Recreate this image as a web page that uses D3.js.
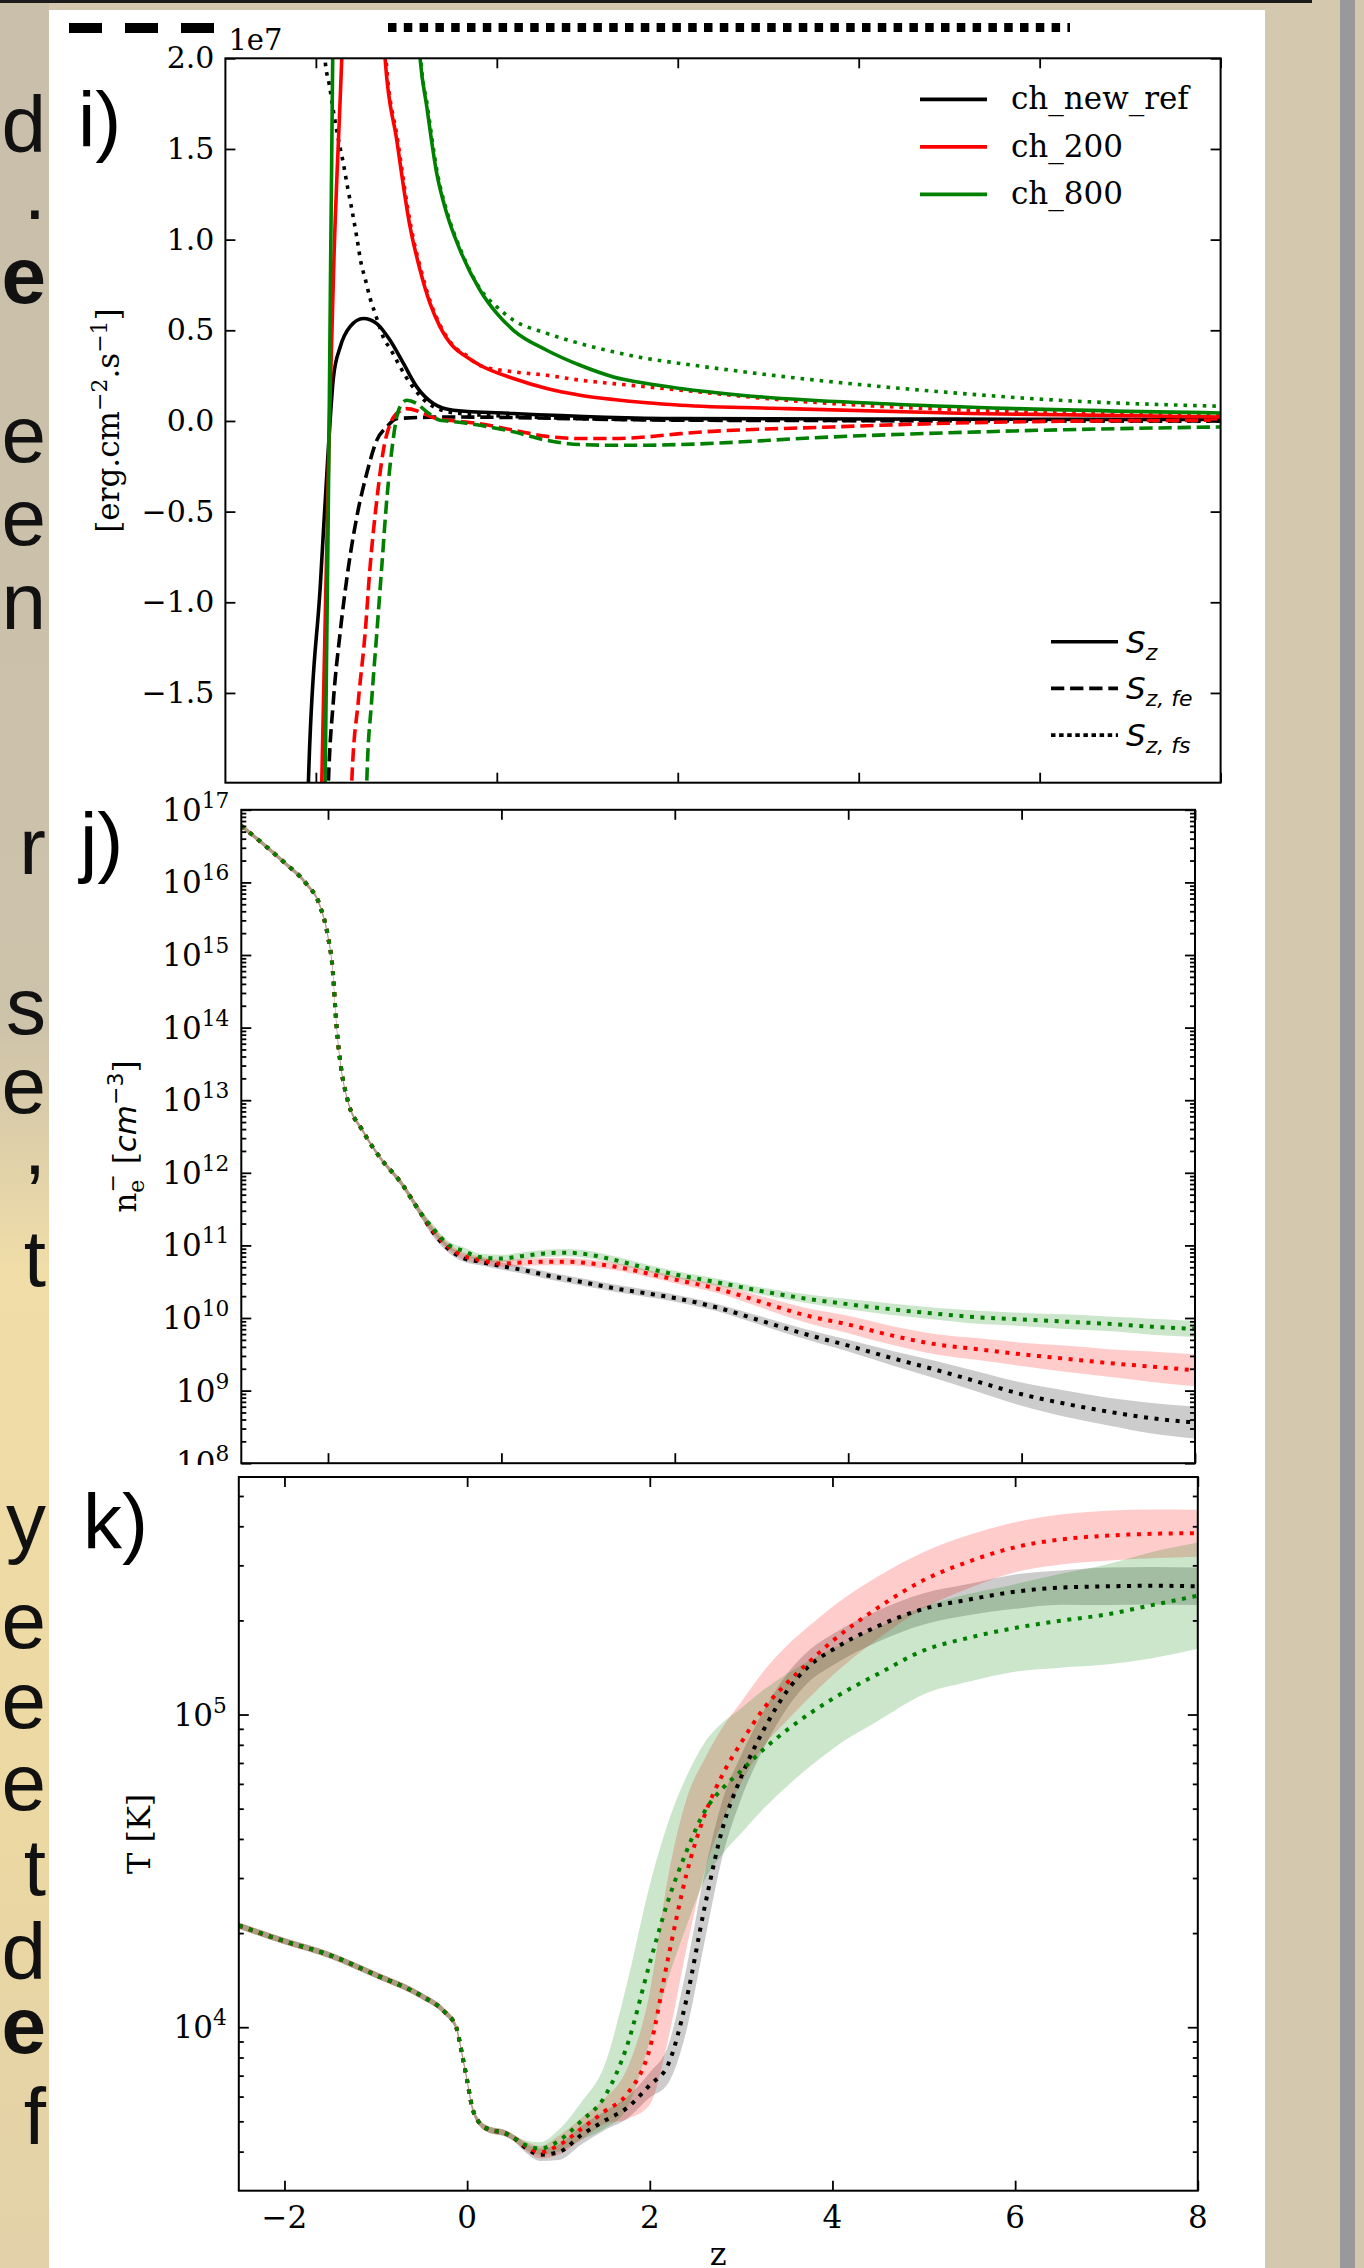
<!DOCTYPE html>
<html>
<head>
<meta charset="utf-8">
<script src="https://cdn.jsdelivr.net/npm/d3@7/dist/d3.min.js"></script>
<style>
  body { margin: 0; background: #fff; }
  svg { display: block; }
</style>
</head>
<body>
<svg id="fig" width="1364" height="2268"></svg>
<script>
// ---------------- panel i) : S_z in units of 1e7 erg cm-2 s-1, as [z, value] ----------------
const sz_ref = [[-2.10,-2.3],[-2.083,-2.0],[-1.95,-0.9],[-1.862,-0.15],[-1.806,0.24],[-1.733,0.405],[-1.622,0.52],[-1.475,0.565],[-1.327,0.537],[-1.18,0.445],[-1.032,0.317],[-0.885,0.188],[-0.701,0.096],[-0.48,0.059],[0.184,0.041],[2.03,0.013],[5,0.01],[8,0.008]];
const szfe_ref = [[-1.88,-2.3],[-1.862,-2.0],[-1.806,-1.54],[-1.733,-1.173],[-1.64,-0.806],[-1.548,-0.53],[-1.438,-0.29],[-1.327,-0.107],[-1.217,-0.033],[-1.106,0.013],[-0.553,0.022],[2.03,0.004],[8,0.0]];
const szfs_ref = [[-1.92,2.4],[-1.90,2.0],[-1.85,1.85],[-1.80,1.69],[-1.75,1.55],[-1.70,1.43],[-1.65,1.29],[-1.60,1.16],[-1.55,1.02],[-1.50,0.87],[-1.45,0.775],[-1.40,0.675],[-1.35,0.60],[-1.30,0.525],[-1.25,0.455],[-1.18,0.40],[-1.07,0.30],[-1.0,0.24],[-0.885,0.16],[-0.77,0.10],[-0.664,0.07],[-0.48,0.045],[0.184,0.025],[2.03,0.006],[8,0.0]];

const sz_200 = [[-1.95,-2.3],[-1.935,-2.0],[-1.85,0.0],[-1.80,0.9],[-1.714,2.0],[-1.68,2.5],[-1.45,3.2],[-1.30,2.6],[-1.235,2.0],[-1.106,1.549],[-0.959,1.071],[-0.848,0.832],[-0.738,0.648],[-0.627,0.519],[-0.48,0.409],[-0.332,0.353],[-0.185,0.307],[0.184,0.234],[0.552,0.179],[0.921,0.142],[1.289,0.118],[1.658,0.10],[2.03,0.087],[3.2,0.068],[5.22,0.041],[8,0.022]];
const szfe_200 = [[-1.62,-2.3],[-1.604,-2.0],[-1.53,-1.54],[-1.456,-1.173],[-1.401,-0.806],[-1.327,-0.438],[-1.254,-0.162],[-1.161,0.004],[-1.07,0.055],[-0.996,0.068],[-0.848,0.05],[-0.664,0.013],[-0.553,0.005],[-0.185,-0.015],[0.184,-0.051],[0.552,-0.085],[0.921,-0.097],[1.29,-0.097],[1.658,-0.088],[2.03,-0.07],[3.71,-0.033],[5.72,-0.005],[8,0.004]];
const szfs_200 = [[-1.25,2.4],[-1.225,2.0],[-1.096,1.549],[-0.949,1.071],[-0.838,0.832],[-0.728,0.648],[-0.617,0.519],[-0.47,0.409],[-0.332,0.36],[-0.185,0.305],[0.184,0.271],[0.552,0.252],[0.921,0.225],[1.289,0.206],[1.658,0.188],[2.03,0.17],[3.2,0.114],[5.22,0.059],[8,0.031]];

const sz_800 = [[-1.92,-2.3],[-1.898,-2.0],[-1.851,0.114],[-1.814,2.0],[-1.79,2.6],[-1.3,3.5],[-0.9,2.4],[-0.848,2.0],[-0.774,1.733],[-0.664,1.365],[-0.553,1.144],[-0.406,0.942],[-0.185,0.721],[0.0,0.593],[0.184,0.50],[0.552,0.39],[0.921,0.307],[1.289,0.243],[1.658,0.206],[2.03,0.179],[2.70,0.142],[4.21,0.096],[5.72,0.068],[8,0.044]];
const szfe_800 = [[-1.45,-2.3],[-1.438,-2.0],[-1.383,-1.54],[-1.327,-1.173],[-1.272,-0.806],[-1.217,-0.438],[-1.161,-0.162],[-1.106,0.022],[-1.04,0.10],[-0.996,0.114],[-0.885,0.096],[-0.774,0.05],[-0.627,0.004],[-0.553,0.0],[-0.185,-0.024],[0.184,-0.06],[0.552,-0.107],[0.921,-0.13],[1.29,-0.134],[1.658,-0.134],[2.03,-0.13],[3.71,-0.088],[5.72,-0.055],[8,-0.033]];
const szfs_800 = [[-0.87,2.4],[-0.84,2.0],[-0.766,1.733],[-0.656,1.365],[-0.545,1.144],[-0.398,0.942],[-0.18,0.725],[0.0,0.629],[0.184,0.556],[0.552,0.483],[0.921,0.427],[1.289,0.381],[1.658,0.344],[2.03,0.317],[3.2,0.243],[4.71,0.169],[6.22,0.114],[8,0.081]];

const fluxTicks = [-1.5, -1.0, -0.5, 0.0, 0.5, 1.0, 1.5, 2.0];
const zTicks = [-2, 0, 2, 4, 6, 8];

// ---------------- panel j) : electron density, log10(n_e) ----------------
const jZ = [-3.0,-2.7,-2.5,-2.25,-2.1,-2.0,-1.95,-1.9,-1.85,-1.78,-1.6,-1.4,-1.15,-0.95,-0.8,-0.6,-0.45,-0.25,0.0,0.25,0.5,0.75,1.0,1.3,1.7,2.0,2.5,3.0,3.5,4.0,4.5,5.0,5.5,6.0,6.5,7.0,7.5,8.0];
const ne_ref = [16.78,16.48,16.27,15.98,15.70,15.25,14.85,14.00,13.45,13.03,12.58,12.21,11.85,11.48,11.20,10.94,10.83,10.775,10.715,10.66,10.595,10.535,10.48,10.41,10.335,10.275,10.14,9.96,9.78,9.62,9.45,9.29,9.12,8.95,8.82,8.71,8.62,8.56];
const ne_200 = [16.78,16.48,16.27,15.98,15.70,15.25,14.85,14.00,13.45,13.03,12.58,12.21,11.85,11.48,11.22,10.97,10.86,10.80,10.75,10.765,10.775,10.776,10.755,10.71,10.61,10.53,10.40,10.22,10.04,9.91,9.76,9.64,9.57,9.50,9.44,9.38,9.33,9.28];
const ne_800 = [16.78,16.48,16.27,15.98,15.70,15.25,14.85,14.00,13.45,13.03,12.58,12.21,11.85,11.48,11.25,11.00,10.93,10.84,10.82,10.855,10.89,10.90,10.875,10.80,10.68,10.60,10.49,10.37,10.27,10.19,10.12,10.06,10.01,9.98,9.95,9.92,9.88,9.85];
// half width of the shaded spread, in decades
const neSpread_ref = [0.03,0.03,0.03,0.03,0.03,0.04,0.05,0.05,0.04,0.03,0.03,0.03,0.04,0.05,0.06,0.05,0.05,0.05,0.05,0.05,0.05,0.05,0.05,0.05,0.05,0.05,0.05,0.06,0.07,0.08,0.10,0.12,0.14,0.16,0.18,0.19,0.21,0.22];
const neSpread_200 = [0.03,0.03,0.03,0.03,0.03,0.04,0.05,0.05,0.04,0.03,0.03,0.03,0.04,0.05,0.06,0.05,0.05,0.05,0.05,0.05,0.05,0.05,0.05,0.05,0.05,0.05,0.06,0.08,0.10,0.12,0.13,0.14,0.15,0.16,0.18,0.19,0.21,0.22];
const neSpread_800 = [0.03,0.03,0.03,0.03,0.03,0.04,0.05,0.05,0.04,0.03,0.03,0.03,0.04,0.05,0.06,0.05,0.05,0.05,0.05,0.05,0.05,0.05,0.05,0.05,0.05,0.05,0.05,0.05,0.06,0.07,0.08,0.08,0.09,0.09,0.10,0.10,0.11,0.11];
const neDecades = [8, 9, 10, 11, 12, 13, 14, 15, 16, 17];

// ---------------- panel k) : temperature, log10(T) ----------------
const kZ = [-2.5,-2.0,-1.5,-1.0,-0.5,-0.25,-0.12,-0.05,0.0,0.05,0.12,0.25,0.4,0.5,0.65,0.8,1.0,1.25,1.5,1.75,2.0,2.2,2.4,2.6,2.8,3.0,3.25,3.5,3.75,4.0,4.5,5.0,5.5,6.0,6.5,7.0,7.5,8.0];
const t_ref = [4.325,4.275,4.23,4.167,4.10,4.05,4.00,3.905,3.83,3.75,3.70,3.672,3.663,3.648,3.612,3.592,3.600,3.655,3.70,3.742,3.815,3.88,4.087,4.383,4.64,4.80,4.953,5.074,5.157,5.207,5.283,5.338,5.368,5.393,5.406,5.41,5.412,5.41];
const t_200 = [4.325,4.275,4.23,4.167,4.10,4.05,4.00,3.905,3.83,3.75,3.70,3.672,3.663,3.648,3.618,3.60,3.622,3.675,3.73,3.786,3.932,4.22,4.488,4.678,4.81,4.91,5.02,5.10,5.17,5.235,5.342,5.43,5.49,5.535,5.56,5.572,5.578,5.58];
const t_800 = [4.325,4.275,4.23,4.167,4.10,4.05,4.00,3.905,3.83,3.75,3.70,3.672,3.663,3.648,3.622,3.612,3.636,3.70,3.775,3.94,4.205,4.404,4.561,4.69,4.765,4.82,4.89,4.95,5.003,5.05,5.13,5.205,5.246,5.277,5.30,5.32,5.35,5.38];
const tSpread_ref = [0.01,0.01,0.01,0.01,0.01,0.01,0.01,0.01,0.01,0.01,0.01,0.01,0.01,0.01,0.015,0.02,0.025,0.03,0.03,0.035,0.04,0.06,0.10,0.11,0.09,0.07,0.06,0.055,0.05,0.05,0.05,0.05,0.05,0.055,0.055,0.06,0.06,0.06];
const tSpread_200 = [0.01,0.01,0.01,0.01,0.01,0.01,0.01,0.01,0.01,0.01,0.01,0.01,0.01,0.01,0.015,0.02,0.03,0.035,0.04,0.08,0.18,0.26,0.24,0.18,0.15,0.13,0.12,0.12,0.115,0.11,0.10,0.09,0.085,0.08,0.08,0.08,0.078,0.075];
const tSpread_800 = [0.01,0.01,0.01,0.01,0.01,0.01,0.01,0.01,0.01,0.01,0.01,0.01,0.01,0.01,0.015,0.02,0.035,0.06,0.10,0.2,0.25,0.25,0.24,0.22,0.21,0.20,0.19,0.18,0.17,0.16,0.15,0.14,0.14,0.14,0.15,0.16,0.17,0.17];
const tDecades = [4, 5];

const runs = ["ch_new_ref", "ch_200", "ch_800"];
const runColors = ["#000000", "#ff0000", "#008000"];
const fluxNames = ["S", "S", "S"];
const fluxSubs = ["z", "z, fe", "z, fs"];

// letters of the slide text left of the figure (line ends), with baseline
const sideLetters = [["d",152],[".",219],["e",303,true],["e",462],["e",545],["n",629],["r",874],["s",1034],["e",1113],[",",1174],["t",1286],["y",1548],["e",1648],["e",1728],["e",1810],["t",1895],["d",1979],["e",2053,true],["f",2144]];

const SERIF = "'DejaVu Serif', serif";
const SANS = "'DejaVu Sans', sans-serif";
const ARIAL = "'Liberation Sans', Arial, sans-serif";
const minus = s => String(s).replace("-", "\u2212");

const svg = d3.select("#fig");

// ---------- slide backdrop ----------
const defs = svg.append("defs");
const grad = defs.append("linearGradient").attr("id", "side").attr("x1", 0).attr("x2", 0).attr("y1", 0).attr("y2", 1);
[[0, "#c9bfaa"], [0.45, "#cdc2aa"], [0.56, "#f0dda8"], [0.8, "#ecd8a2"], [1, "#e2d1a9"]]
  .forEach(([o, c]) => grad.append("stop").attr("offset", o).attr("stop-color", c));

svg.append("rect").attr("width", 1364).attr("height", 2268).attr("fill", "#d4c8ae");
svg.append("rect").attr("width", 49).attr("height", 2268).attr("fill", "url(#side)");
svg.append("rect").attr("x", 1340).attr("width", 15).attr("height", 2268).attr("fill", "#999");
svg.append("rect").attr("width", 1312).attr("height", 3).attr("fill", "#1c1c1c");

svg.append("g").selectAll("text").data(sideLetters).join("text")
  .attr("x", 46).attr("y", d => d[1]).attr("text-anchor", "end")
  .attr("font-family", ARIAL).attr("font-size", 80).attr("font-weight", d => d[2] ? "bold" : "normal")
  .attr("fill", "#111").text(d => d[0]);

svg.append("rect").attr("x", 49).attr("y", 10).attr("width", 1216).attr("height", 2258).attr("fill", "#fff");

// remnants of a legend above the figure
svg.append("line").attr("x1", 69).attr("x2", 214).attr("y1", 28).attr("y2", 28)
  .attr("stroke", "#000").attr("stroke-width", 10).attr("stroke-dasharray", "33,23");
svg.append("line").attr("x1", 388).attr("x2", 1070).attr("y1", 27.5).attr("y2", 27.5)
  .attr("stroke", "#000").attr("stroke-width", 9).attr("stroke-dasharray", "8.5,7.3");

// ---------- helpers ----------
function frame(g, x, y, xMajor, yMajor, yMinor) {
  const [xl, xr] = x.range();
  const [yb, yt] = y.range();
  const tidy = a => a.call(s => s.select(".domain").remove())
    .call(s => s.selectAll("line").attr("stroke", "#000").attr("stroke-width", 1.8));
  g.append("g").attr("transform", `translate(0,${yb})`)
    .call(d3.axisBottom(x).tickValues(xMajor).tickSize(-10).tickFormat("")).call(tidy);
  g.append("g").attr("transform", `translate(0,${yt})`)
    .call(d3.axisTop(x).tickValues(xMajor).tickSize(-10).tickFormat("")).call(tidy);
  g.append("g").attr("transform", `translate(${xl},0)`)
    .call(d3.axisLeft(y).tickValues(yMajor).tickSize(-10).tickFormat("")).call(tidy);
  g.append("g").attr("transform", `translate(${xr},0)`)
    .call(d3.axisRight(y).tickValues(yMajor).tickSize(-10).tickFormat("")).call(tidy);
  if (yMinor) {
    g.append("g").attr("transform", `translate(${xl},0)`)
      .call(d3.axisLeft(y).tickValues(yMinor).tickSize(-5).tickFormat("")).call(tidy);
    g.append("g").attr("transform", `translate(${xr},0)`)
      .call(d3.axisRight(y).tickValues(yMinor).tickSize(-5).tickFormat("")).call(tidy);
  }
  g.append("rect").attr("x", xl).attr("y", yt).attr("width", xr - xl).attr("height", yb - yt)
    .attr("fill", "none").attr("stroke", "#000").attr("stroke-width", 2);
}

function clipFor(id, x, y) {
  const [xl, xr] = x.range();
  const [yb, yt] = y.range();
  defs.append("clipPath").attr("id", id).append("rect")
    .attr("x", xl).attr("y", yt).attr("width", xr - xl).attr("height", yb - yt);
  return `url(#${id})`;
}

function logLabels(g, x, y, decades, fontSize) {
  const t = g.append("g").attr("font-family", SERIF).attr("font-size", fontSize)
    .selectAll("text").data(decades).join("text")
    .attr("x", x.range()[0] - 12).attr("y", d => y(Math.pow(10, d)) + 11).attr("text-anchor", "end");
  t.append("tspan").text("10");
  t.append("tspan").attr("dy", -13).attr("font-size", fontSize * 0.7).text(d => d);
}

function minorLog(decades, domain) {
  const out = [];
  decades.forEach(e => d3.range(2, 10).forEach(m => {
    const v = m * Math.pow(10, e);
    if (v > domain[0] && v < domain[1]) out.push(v);
  }));
  return out;
}

// ---------- panel i ----------
const xI = d3.scaleLinear().domain([-3, 8]).range([225.4, 1220.6]);
const yI = d3.scaleLinear().domain([-1.995, 2.0]).range([782.7, 58.3]);
const gI = svg.append("g");
const lineI = d3.line().x(d => xI(d[0])).y(d => yI(d[1])).curve(d3.curveMonotoneX);
const styleDash = { solid: null, dashed: "13.3,5.8", dotted: "3.6,6" };
const fluxSets = [
  [sz_ref, szfe_ref, szfs_ref],
  [sz_200, szfe_200, szfs_200],
  [sz_800, szfe_800, szfs_800]
];
const clipI = clipFor("clipI", xI, yI);
const linesI = gI.append("g").attr("clip-path", clipI);
fluxSets.forEach((set, i) => {
  ["solid", "dashed", "dotted"].forEach((st, k) => {
    linesI.append("path").datum(set[k]).attr("d", lineI)
      .attr("fill", "none").attr("stroke", runColors[i]).attr("stroke-width", 3.6)
      .attr("stroke-dasharray", styleDash[st]);
  });
});
frame(gI, xI, yI, zTicks, fluxTicks, null);
gI.append("g").attr("font-family", SERIF).attr("font-size", 30)
  .selectAll("text").data(fluxTicks).join("text")
  .attr("x", xI.range()[0] - 11).attr("y", d => yI(d) + 10).attr("text-anchor", "end")
  .text(d => minus(d.toFixed(1)));
gI.append("text").attr("x", xI.range()[0] + 3).attr("y", yI.range()[1] - 8)
  .attr("font-family", SERIF).attr("font-size", 29).text("1e7");
const yLabI = gI.append("text").attr("transform", `translate(119,${(yI.range()[0] + yI.range()[1]) / 2}) rotate(-90)`)
  .attr("text-anchor", "middle").attr("font-family", SERIF).attr("font-size", 31);
yLabI.append("tspan").text("[erg.cm");
yLabI.append("tspan").attr("dy", -12).attr("font-size", 22).text("\u22122");
yLabI.append("tspan").attr("dy", 12).text(".s");
yLabI.append("tspan").attr("dy", -12).attr("font-size", 22).text("\u22121");
yLabI.append("tspan").attr("dy", 12).text("]");

// legend of runs
const leg1 = gI.append("g").selectAll("g").data(runs).join("g")
  .attr("transform", (d, i) => `translate(920,${99.3 + i * 47.5})`);
leg1.append("line").attr("x2", 67).attr("stroke", (d, i) => runColors[i]).attr("stroke-width", 3.8);
leg1.append("text").attr("x", 91).attr("y", 10).attr("font-family", SERIF).attr("font-size", 31).text(d => d);

// legend of flux parts
const leg2 = gI.append("g").selectAll("g").data(["solid", "dashed", "dotted"]).join("g")
  .attr("transform", (d, i) => `translate(1051,${641.7 + i * 46.7})`);
leg2.append("line").attr("x2", 67).attr("stroke", "#000").attr("stroke-width", 3.6)
  .attr("stroke-dasharray", d => d === "dotted" ? "4.5,3.6" : styleDash[d]);
const leg2t = leg2.append("text").attr("x", 75).attr("y", 11).attr("font-family", SANS)
  .attr("font-style", "italic").attr("font-size", 31);
leg2t.append("tspan").text((d, i) => fluxNames[i]);
leg2t.append("tspan").attr("dy", 7).attr("font-size", 22).text((d, i) => fluxSubs[i]);

// ---------- panel j ----------
const xJ = d3.scaleLinear().domain([-3, 8]).range([241.3, 1195]);
const yJ = d3.scaleLog().domain([1e8, 1e17]).range([1463.2, 809.8]);
const gJ = svg.append("g");
const clipJ = clipFor("clipJ", xJ, yJ);
const neSets = [[ne_ref, neSpread_ref], [ne_200, neSpread_200], [ne_800, neSpread_800]];
const bandsJ = gJ.append("g").attr("clip-path", clipJ);
const linesJ = gJ.append("g").attr("clip-path", clipJ);
neSets.forEach(([mid, sp], i) => {
  const rows = jZ.map((z, k) => ({ z, m: mid[k], s: sp[k] }));
  bandsJ.append("path").datum(rows)
    .attr("d", d3.area().x(d => xJ(d.z)).y0(d => yJ(Math.pow(10, d.m - d.s))).y1(d => yJ(Math.pow(10, d.m + d.s))).curve(d3.curveMonotoneX))
    .attr("fill", runColors[i]).attr("fill-opacity", 0.2);
  linesJ.append("path").datum(rows)
    .attr("d", d3.line().x(d => xJ(d.z)).y(d => yJ(Math.pow(10, d.m))).curve(d3.curveMonotoneX))
    .attr("fill", "none").attr("stroke", runColors[i]).attr("stroke-width", 4).attr("stroke-dasharray", "4,6.6");
});
frame(gJ, xJ, yJ, zTicks, neDecades.map(e => Math.pow(10, e)), minorLog(neDecades, yJ.domain()));
logLabels(gJ, xJ, yJ, neDecades, 31);
const yLabJ = gJ.append("text").attr("transform", `translate(136,${(yJ.range()[0] + yJ.range()[1]) / 2}) rotate(-90)`)
  .attr("text-anchor", "middle").attr("font-family", SERIF).attr("font-size", 31);
yLabJ.append("tspan").text("n");
yLabJ.append("tspan").attr("dy", 8).attr("font-size", 22).text("e");
yLabJ.append("tspan").attr("dx", -13).attr("dy", -24).attr("font-size", 22).text("\u2212");
yLabJ.append("tspan").attr("dy", 16).text(" [");
yLabJ.append("tspan").attr("font-family", SANS).attr("font-style", "italic").text("cm");
yLabJ.append("tspan").attr("dy", -13).attr("font-family", SANS).attr("font-size", 22).text("\u22123");
yLabJ.append("tspan").attr("dy", 13).text("]");

// figure k image covers the bottom of figure j
svg.append("rect").attr("x", 49).attr("y", 1465).attr("width", 1216).attr("height", 803).attr("fill", "#fff");

// ---------- panel k ----------
const xK = d3.scaleLinear().domain([-2.5, 8]).range([238.8, 1197.8]);
const yK = d3.scaleLog().domain([3000, 5.75e5]).range([2190.7, 1477]);
const gK = svg.append("g");
const clipK = clipFor("clipK", xK, yK);
const tSets = [[t_ref, tSpread_ref], [t_200, tSpread_200], [t_800, tSpread_800]];
const bandsK = gK.append("g").attr("clip-path", clipK);
const linesK = gK.append("g").attr("clip-path", clipK);
tSets.forEach(([mid, sp], i) => {
  const rows = kZ.map((z, k) => ({ z, m: mid[k], s: sp[k] }));
  bandsK.append("path").datum(rows)
    .attr("d", d3.area().x(d => xK(d.z)).y0(d => yK(Math.pow(10, d.m - d.s))).y1(d => yK(Math.pow(10, d.m + d.s))).curve(d3.curveMonotoneX))
    .attr("fill", runColors[i]).attr("fill-opacity", 0.2);
  linesK.append("path").datum(rows)
    .attr("d", d3.line().x(d => xK(d.z)).y(d => yK(Math.pow(10, d.m))).curve(d3.curveMonotoneX))
    .attr("fill", "none").attr("stroke", runColors[i]).attr("stroke-width", 4).attr("stroke-dasharray", "4,6.6");
});
frame(gK, xK, yK, zTicks, tDecades.map(e => Math.pow(10, e)), minorLog([3, 4, 5], yK.domain()));
logLabels(gK, xK, yK, tDecades, 31);
gK.append("g").attr("font-family", SERIF).attr("font-size", 31)
  .selectAll("text").data(zTicks).join("text")
  .attr("x", d => xK(d)).attr("y", yK.range()[0] + 37).attr("text-anchor", "middle")
  .text(d => minus(d));
gK.append("text").attr("x", (xK.range()[0] + xK.range()[1]) / 2).attr("y", 2265)
  .attr("text-anchor", "middle").attr("font-family", SERIF).attr("font-size", 32).text("z");
gK.append("text").attr("transform", `translate(150,${(yK.range()[0] + yK.range()[1]) / 2}) rotate(-90)`)
  .attr("text-anchor", "middle").attr("font-family", SERIF).attr("font-size", 32).text("T [K]");

// ---------- panel letters ----------
[["i)", 78, 147], ["j)", 80, 868], ["k)", 83, 1549]].forEach(([t, x, y]) => {
  svg.append("text").attr("x", x).attr("y", y).attr("font-family", ARIAL).attr("font-size", 78)
    .attr("fill", "#000").text(t);
});
</script>
</body>
</html>
